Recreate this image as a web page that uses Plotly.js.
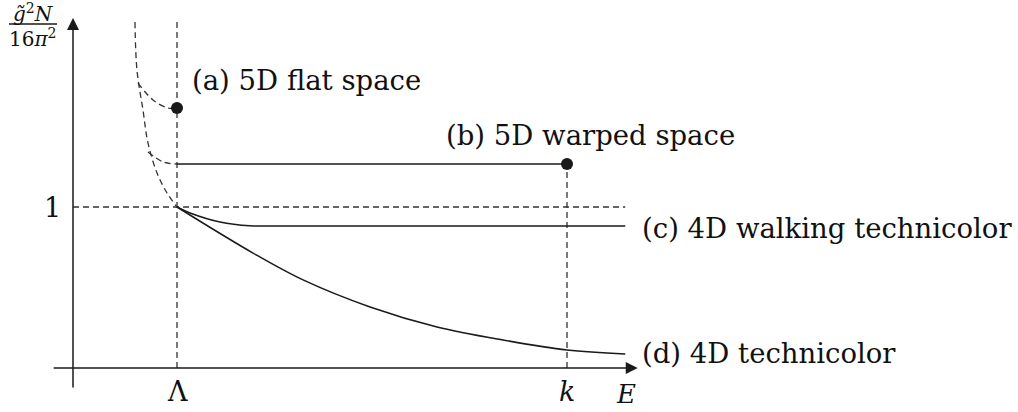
<!DOCTYPE html>
<html>
<head>
<meta charset="utf-8">
<script src="https://cdn.plot.ly/plotly-3.0.1.min.js"></script>
<style>
  html, body { margin: 0; padding: 0; background: #fff; }
  #chart { width: 1018px; height: 412px; }
</style>
</head>
<body>
<div id="chart"></div>
<script>
// energy E in units of Lambda, coupling g~^2 N / 16 pi^2
const LAMBDA = 1.0;
const K = 4.75;
const E_END = 5.31;

// dashed behaviour below Lambda (strong coupling)
const lowE = [0.596, 0.615, 0.673, 0.721, 0.808, 0.904, 1.0];
const lowG = [2.149, 1.851, 1.602, 1.398, 1.211, 1.087, 1.0];

// branch into (a)
const flatBranchE = [0.625, 0.769, 0.913, 1.0];
const flatBranchG = [1.770, 1.665, 1.615, 1.615];

// branch into (b)
const warpBranchE = [0.721, 0.865, 1.0];
const warpBranchG = [1.342, 1.280, 1.267];

// (b) 5D warped space: constant from Lambda to k
const warpE = [1.0, K];
const warpG = [1.267, 1.267];

// (c) 4D walking technicolor
const walkE = [1.0, 1.125, 1.413, 1.702, 1.95, E_END];
const walkG = [1.0, 0.963, 0.907, 0.883, 0.882, 0.882];

// (d) 4D technicolor
const tcE = [1.0, 1.731, 2.212, 2.856, 3.5, 4.135, 4.75, E_END];
const tcG = [1.0, 0.714, 0.547, 0.379, 0.255, 0.174, 0.112, 0.087];

// end points
const dotE = [LAMBDA, K];
const dotG = [1.615, 1.267];

const ink = '#1a1a1a';
const dashInk = '#333';
const dashPat = '6px,4px';
const serif = '"DejaVu Serif", "Liberation Serif", serif';

const traces = [
    { x: lowE, y: lowG, mode: 'lines', line: { color: dashInk, width: 1.3, dash: dashPat, shape: 'spline' } },
    { x: flatBranchE, y: flatBranchG, mode: 'lines', line: { color: dashInk, width: 1.3, dash: dashPat, shape: 'spline' } },
    { x: warpBranchE, y: warpBranchG, mode: 'lines', line: { color: dashInk, width: 1.3, dash: dashPat, shape: 'spline' } },
    // reference lines
    { x: [LAMBDA, LAMBDA], y: [0, 2.149], mode: 'lines', line: { color: dashInk, width: 1.3, dash: dashPat } },
    { x: [K, K], y: [0, warpG[1]], mode: 'lines', line: { color: dashInk, width: 1.3, dash: dashPat } },
    { x: [0, E_END], y: [1, 1], mode: 'lines', line: { color: dashInk, width: 1.3, dash: dashPat } },
    // curves
    { x: warpE, y: warpG, mode: 'lines', line: { color: ink, width: 1.5 } },
    { x: walkE, y: walkG, mode: 'lines', line: { color: ink, width: 1.5, shape: 'spline' } },
    { x: tcE, y: tcG, mode: 'lines', line: { color: ink, width: 1.5, shape: 'spline' } },
    { x: dotE, y: dotG, mode: 'markers', marker: { color: ink, size: 12 } }
];

// pixel position -> paper coords (margins are zero)
function at(px, py) {
    return { x: px / 1018, y: 1 - py / 412, xref: 'paper', yref: 'paper' };
}

function label(text, px, py, anchor, size) {
    return Object.assign(at(px, py), {
        text, showarrow: false, xanchor: anchor || 'left', yanchor: 'middle',
        font: { family: serif, size: size || 27.5, color: '#111' }
    });
}

function arrow(x0, y0, x1, y1) {
    return {
        x: x1, y: y1, ax: x0, ay: y0, xref: 'x', yref: 'y', axref: 'x', ayref: 'y',
        text: '', showarrow: true, arrowhead: 2, arrowsize: 1.6, arrowwidth: 1.5,
        arrowcolor: ink, standoff: 0
    };
}

const annotations = [
    arrow(-0.20, 0, 5.43, 0),
    arrow(0, -0.13, 0, 2.174),
    label('(a) 5D flat space', 190, 80),
    label('(b) 5D warped space', 444, 135),
    label('(c) 4D walking technicolor', 640, 228),
    label('(d) 4D technicolor', 640, 353),
    label('1', 52, 207, 'center', 27),
    label('Λ', 177, 391, 'center', 27),
    label('<i>k</i>', 567, 391, 'center', 27),
    label('<i>E</i>', 626, 394, 'center', 26),
    label('<i>g̃</i><sup>2</sup><i>N</i>', 33, 13, 'center', 20),
    label('16<i>π</i><sup>2</sup>', 33, 38, 'center', 20)
];

const shapes = [
    { type: 'line', xref: 'paper', yref: 'paper',
      x0: 9 / 1018, x1: 57 / 1018, y0: 1 - 24 / 412, y1: 1 - 24 / 412,
      line: { color: ink, width: 1.3 } }
];

Plotly.newPlot('chart', traces, {
    width: 1018,
    height: 412,
    margin: { l: 0, r: 0, t: 0, b: 0 },
    paper_bgcolor: '#fff',
    plot_bgcolor: '#fff',
    showlegend: false,
    xaxis: { range: [-73 / 104, 945 / 104], visible: false, fixedrange: true },
    yaxis: { range: [-44 / 161, 368 / 161], visible: false, fixedrange: true },
    annotations,
    shapes
}, { staticPlot: true });
</script>
</body>
</html>
